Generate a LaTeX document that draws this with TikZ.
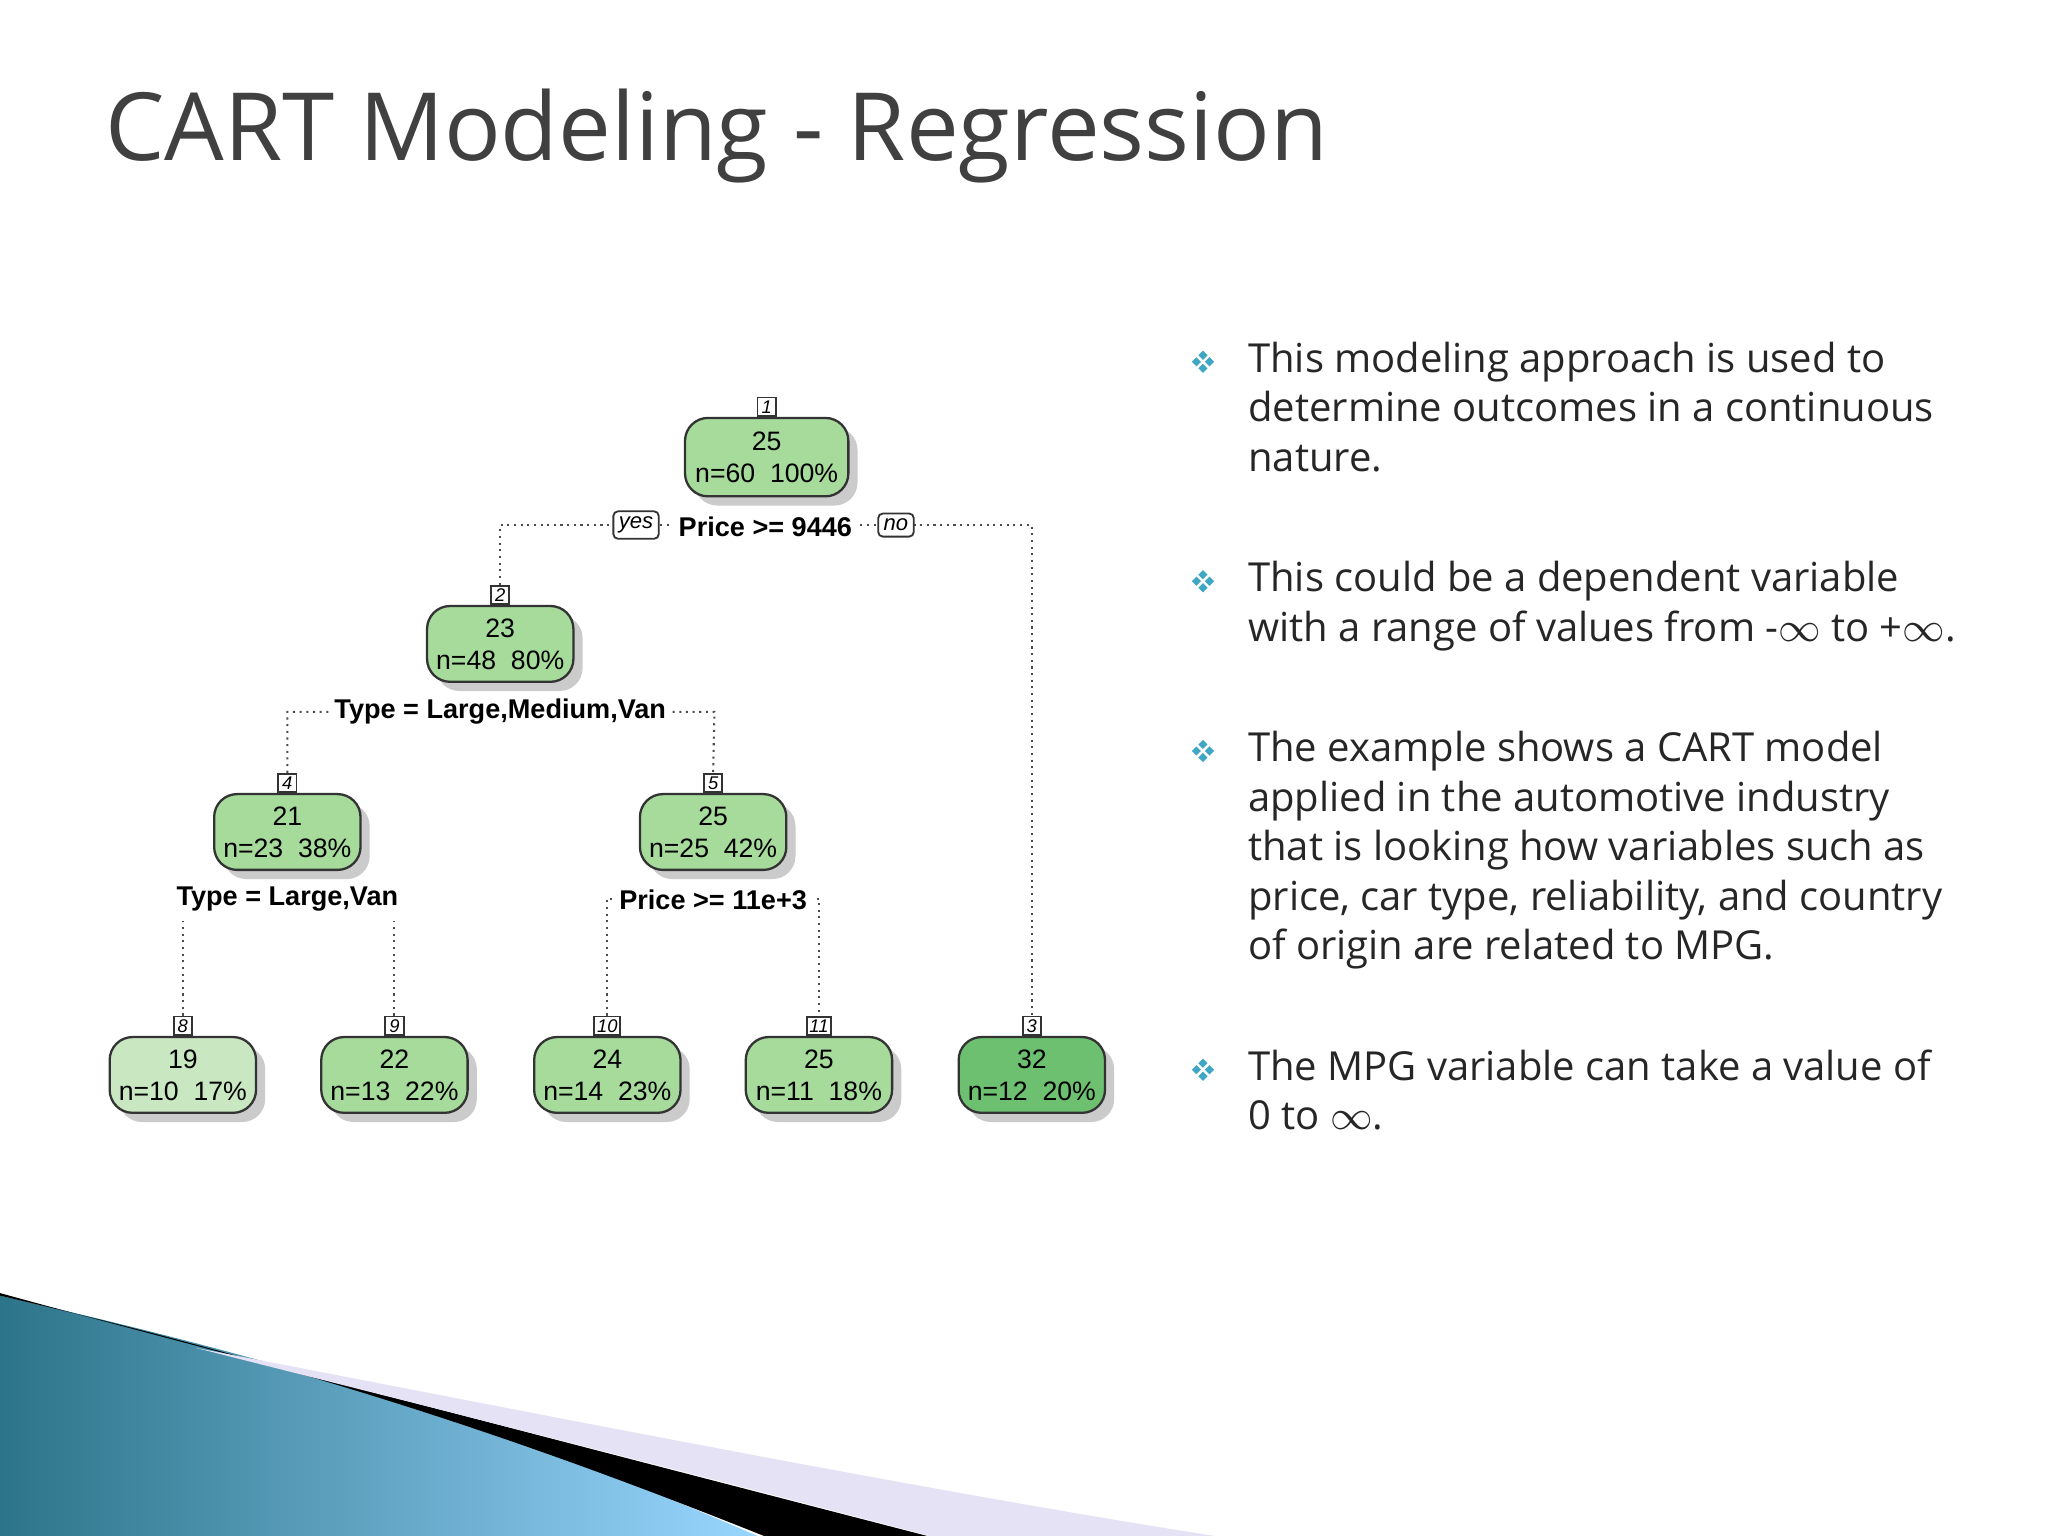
\documentclass[tikz,border=0pt]{standalone}
\usepackage{fontspec}
\setmainfont{Open Sans}
\newfontfamily\treefont{Liberation Sans}
\usetikzlibrary{shadows}
\definecolor{lg}{HTML}{C9E8C1}
\definecolor{mg}{HTML}{A6DB9C}
\definecolor{dg}{HTML}{6CC070}
\definecolor{teal}{HTML}{3FA6C4}
\definecolor{titlec}{HTML}{404040}
\begin{document}
\begin{tikzpicture}[x=0.01cm,y=-0.01cm,
  tn/.style={draw=black!80,line width=0.5pt,rounded corners=5pt,minimum width=1.12cm,
    minimum height=0.58cm,align=center,inner sep=0.5pt,
    font=\treefont\fontsize{5.8}{7}\selectfont,
    drop shadow={shadow xshift=2pt,shadow yshift=-2pt,fill=black!40,opacity=0.5}},
  nb/.style={draw=black!80,line width=0.4pt,fill=white,inner sep=0.6pt,minimum width=0.14cm,minimum height=0.14cm,
    font=\treefont\itshape\fontsize{4}{4.5}\selectfont,anchor=south},
  lab/.style={fill=white,inner sep=1pt,font=\treefont\bfseries\fontsize{5.9}{6.5}\selectfont},
  yn/.style={draw=black!80,line width=0.4pt,fill=white,inner sep=1.2pt,rounded corners=1pt,
    font=\treefont\itshape\fontsize{4.8}{5.5}\selectfont},
  ed/.style={densely dotted,line width=0.45pt,black!70},
  bt/.style={anchor=north west,align=left,inner sep=0pt,text=black!85,
    font=\fontsize{8.7}{10.8}\selectfont},
]
\useasboundingbox (0,0) rectangle (1568,1176);
\fill[white] (0,0) rectangle (1568,1176);
% bottom decoration
\shade[left color=teal!70!black,right color=cyan!60!blue!40] (0,992) .. controls (300,1060) and (450,1120) .. (580,1176) -- (0,1176) -- cycle;
\fill[black] (0,990) .. controls (90,1015) and (300,1070) .. (710,1176) -- (585,1176) .. controls (420,1110) and (250,1050) .. (0,992) -- cycle;
\fill[cyan!15!blue!10] (150,1032) .. controls (400,1080) and (700,1140) .. (930,1176) -- (712,1176) .. controls (500,1120) and (300,1070) .. (150,1032) -- cycle;
% title
\node[anchor=west,inner sep=0pt,text=titlec,font=\fontsize{20.5}{24}\selectfont] (title) at (80,104) {CART Modeling - Regression};
% tree nodes
\node[tn,fill=mg,minimum width=1.25cm,minimum height=0.6cm] (n1) at (587,350) {25\\n=60\ \ 100\%};
\node[tn,fill=mg] (n2) at (383,493) {23\\n=48\ \ 80\%};
\node[tn,fill=mg] (n4) at (220,637) {21\\n=23\ \ 38\%};
\node[tn,fill=mg] (n5) at (546,637) {25\\n=25\ \ 42\%};
\node[tn,fill=lg] (n8) at (140,823) {19\\n=10\ \ 17\%};
\node[tn,fill=mg] (n9) at (302,823) {22\\n=13\ \ 22\%};
\node[tn,fill=mg] (n10) at (465,823) {24\\n=14\ \ 23\%};
\node[tn,fill=mg] (n11) at (627,823) {25\\n=11\ \ 18\%};
\node[tn,fill=dg] (n3) at (790,823) {32\\n=12\ \ 20\%};
\foreach \n/\t in {n1/1,n2/2,n4/4,n5/5,n8/8,n9/9,n10/10,n11/11,n3/3}
  \node[nb] (b\t) at (\n.north) {\t};
% edges
\coordinate (r1l) at (383,402); \coordinate (r1r) at (790,402);
\draw[ed] (b2.north) -- (r1l) -- (r1r) -- (b3.north);
\node[lab] (l1) at (586,403) {Price >= 9446};
\node[yn] (yes) at (487,402) {yes};
\node[yn] (no) at (686,402) {no};
\coordinate (r2l) at (220,545); \coordinate (r2r) at (547,545);
\draw[ed] (b4.north) -- (r2l) -- (r2r) -- (b5.north);
\node[lab] (l2) at (383,545) {Type = Large,Medium,Van};
\coordinate (r4l) at (140,705); \coordinate (r4r) at (302,705);
\draw[ed] (b8.north) -- (r4l); \draw[ed] (b9.north) -- (r4r);
\node[lab] (l4) at (220,688) {Type = Large,Van};
\coordinate (r5l) at (465,688); \coordinate (r5r) at (627,688);
\draw[ed] (b10.north) -- (r5l) -- (r5r) -- (b11.north);
\node[lab] (l5) at (546,689) {Price >= 11e+3};
% bullets
\foreach \y/\t in {
 263/{This modeling approach is used to\\determine outcomes in a continuous\\nature.},
 431/{This could be a dependent variable\\with a range of values from -$\infty$ to +$\infty$.},
 561/{The example shows a CART model\\applied in the automotive industry\\that is looking how variables such as\\price, car type, reliability, and country\\of origin are related to MPG.},
 805/{The MPG variable can take a value of\\0 to $\infty$.}}{
 \node[bt] at (955,\y-2) {\t};
 \foreach \dx/\dy in {-5/0,5/0,0/-5,0/5}
   \fill[teal] (921+\dx,\y+14+\dy) +(0,-3.5) -- +(3.5,0) -- +(0,3.5) -- +(-3.5,0) -- cycle;
}
\end{tikzpicture}
\end{document}
